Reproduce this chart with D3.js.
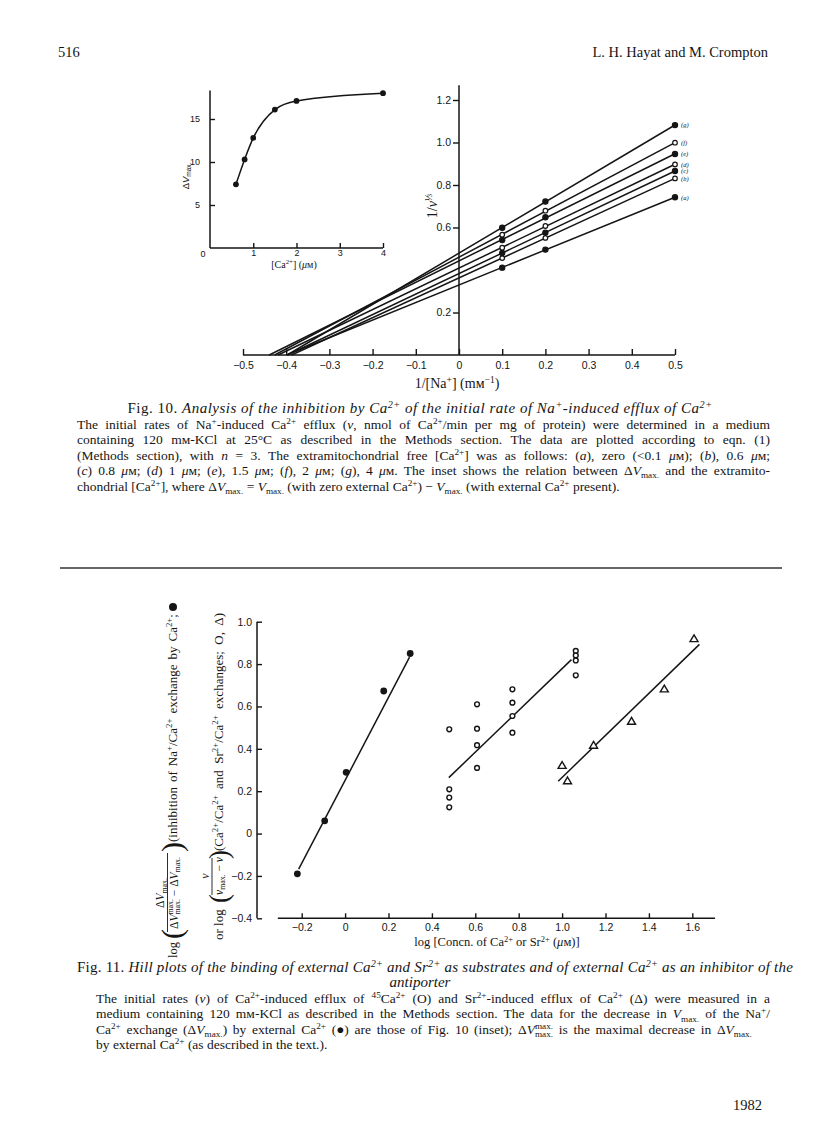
<!DOCTYPE html>
<html>
<head>
<meta charset="utf-8">
<script src="https://cdn.jsdelivr.net/npm/d3@7"></script>
<style>
body { margin: 0; padding: 0; background: #fff; }
svg { display: block; }
.tick text { font-family: "Liberation Sans", Arial, sans-serif; font-size: 10.5px; fill: #151515; }
.tick line { stroke: #151515; stroke-width: 1.4; }
.serif { font-family: "Liberation Serif", "Times New Roman", serif; fill: #151515; }
.sans { font-family: "Liberation Sans", Arial, sans-serif; fill: #151515; }
.axisline, .fit { stroke: #151515; stroke-width: 1.5; fill: none; }
</style>
</head>
<body>
<script>
// ---- Fig. 10 main plot: 1/v against 1/[Na+] ----
var naInv = [0.1, 0.2, 0.5];
var seriesLabels = ["(a)", "(b)", "(c)", "(d)", "(e)", "(f)", "(g)"];
var seriesFilled = [true, false, true, false, true, false, true];
var invV = [
  [0.411, 0.496, 0.742],
  [0.456, 0.551, 0.831],
  [0.480, 0.576, 0.866],
  [0.505, 0.607, 0.897],
  [0.541, 0.648, 0.946],
  [0.566, 0.679, 0.999],
  [0.599, 0.722, 1.082]
];
var mainXTicks = [-0.5, -0.4, -0.3, -0.2, -0.1, 0, 0.1, 0.2, 0.3, 0.4, 0.5];
var mainYTicks = [0.2, 0.6, 0.8, 1.0, 1.2];

// ---- Fig. 10 inset: dVmax against [Ca2+] ----
var caConc = [0.6, 0.8, 1.0, 1.5, 2.0, 4.0];
var dVmax = [7.4, 10.3, 12.8, 16.1, 17.1, 18.0];
var insetXTicks = [1, 2, 3, 4];
var insetYTicks = [5, 10, 15];

// ---- Fig. 11 Hill plots ----
var inhibX = [-0.22, -0.094, 0.005, 0.178, 0.30];
var inhibY = [-0.19, 0.06, 0.289, 0.673, 0.85];
var caX = [0.48, 0.48, 0.48, 0.48, 0.608, 0.608, 0.608, 0.608, 0.771, 0.771, 0.771, 0.771, 1.063, 1.063, 1.063, 1.063];
var caY = [0.492, 0.209, 0.17, 0.124, 0.61, 0.495, 0.417, 0.31, 0.681, 0.618, 0.555, 0.476, 0.862, 0.841, 0.817, 0.747];
var srX = [1.0, 1.025, 1.145, 1.32, 1.471, 1.608];
var srY = [0.322, 0.249, 0.417, 0.53, 0.683, 0.92];
var fitInhib = [[-0.214, -0.168], [0.297, 0.833]];
var fitCa = [[0.478, 0.264], [1.043, 0.821]];
var fitSr = [[0.982, 0.247], [1.633, 0.893]];
var hillXTicks = [-0.2, 0, 0.2, 0.4, 0.6, 0.8, 1.0, 1.2, 1.4, 1.6];
var hillYTicks = [-0.4, -0.2, 0, 0.2, 0.4, 0.6, 0.8, 1.0];

var W = 816, H = 1136;
var svg = d3.select("body").append("svg").attr("width", W).attr("height", H);

var fmt = function (v) { return v === 0 ? "0" : d3.format(".1f")(v); };

// small markup: ^{sup} _{sub} *italic toggle*
function rich(text, str, fs) {
  var re = /\^\{([^}]*)\}|_\{([^}]*)\}|\*|[^*^_]+/g, m, ital = false, shift = 0, lastSup = null;
  while ((m = re.exec(str))) {
    if (m[0] === "*") { ital = !ital; continue; }
    var t = text.append("tspan"), target = 0, txt = m[0];
    if (m[1] !== undefined) { target = -0.36 * fs; txt = m[1]; t.style("font-size", (fs * 0.68) + "px"); }
    else if (m[2] !== undefined) { target = 0.24 * fs; txt = m[2]; t.style("font-size", (fs * 0.68) + "px"); }
    if (ital) t.style("font-style", "italic");
    t.attr("dy", target - shift).text(txt);
    if (m[2] !== undefined && lastSup) t.attr("dx", -lastSup.node().getComputedTextLength());
    lastSup = m[1] !== undefined ? t : null;
    shift = target;
  }
  return text;
}
function justify(text, width) {
  var n = text.node().getComputedTextLength();
  var spaces = (text.text().match(/ /g) || []).length;
  if (spaces) text.style("word-spacing", ((width - n) / spaces) + "px");
}
function stretch(text, width) {
  var n = text.node().getComputedTextLength();
  var chars = text.text().length;
  text.style("letter-spacing", ((width - n) / chars) + "px");
}
function label(x, y, str, fs, cls, anchor) {
  var t = svg.append("text").attr("class", cls || "serif").attr("x", x).attr("y", y)
    .style("font-size", fs + "px").attr("text-anchor", anchor || "start");
  return rich(t, str, fs);
}

// ---- page header / footer ----
label(58, 57, "516", 14.5);
label(768, 57, "L. H. Hayat and M. Crompton", 14.5, "serif", "end");
label(762, 1110, "1982", 14.5, "serif", "end");

// ===== Fig. 10 main =====
var xM = d3.scaleLinear().domain([-0.5, 0.5]).range([243, 675]);
var yM = d3.scaleLinear().domain([0, 1.2]).range([355, 100]);

svg.append("g").attr("transform", "translate(0," + yM(0) + ")")
  .call(d3.axisBottom(xM).tickValues(mainXTicks).tickSize(-6).tickPadding(7).tickFormat(fmt))
  .call(function (g) { g.select(".domain").remove(); });
svg.append("line").attr("class", "axisline")
  .attr("x1", xM(-0.5)).attr("x2", xM(0.5)).attr("y1", yM(0)).attr("y2", yM(0));
svg.append("g").attr("transform", "translate(" + xM(0) + ",0)")
  .call(d3.axisLeft(yM).tickValues(mainYTicks).tickSize(6).tickPadding(2).tickFormat(fmt))
  .call(function (g) { g.select(".domain").remove(); });
svg.append("line").attr("class", "axisline")
  .attr("x1", xM(0)).attr("x2", xM(0)).attr("y1", yM(0)).attr("y2", yM(1.27));

function fitLine(xs, ys) {
  var mx = d3.mean(xs), my = d3.mean(ys);
  var sxy = d3.sum(xs, function (x, i) { return (x - mx) * (ys[i] - my); });
  var sxx = d3.sum(xs, function (x) { return (x - mx) * (x - mx); });
  var m = sxy / sxx;
  return { m: m, b: my - m * mx };
}
var lineM = d3.line().x(function (d) { return xM(d[0]); }).y(function (d) { return yM(d[1]); });

invV.forEach(function (ys, i) {
  var f = fitLine(naInv, ys);
  var x0 = -f.b / f.m;
  svg.append("path").attr("class", "fit").attr("stroke-width", 1.2)
    .attr("d", lineM([[x0, 0], [0.5, f.m * 0.5 + f.b]]));
});
invV.forEach(function (ys, i) {
  svg.append("g").selectAll("circle").data(ys).enter().append("circle")
    .attr("cx", function (d, j) { return xM(naInv[j]); })
    .attr("cy", function (d) { return yM(d); })
    .attr("r", seriesFilled[i] ? 2.6 : 2.3)
    .attr("fill", seriesFilled[i] ? "#151515" : "#fff")
    .attr("stroke", "#151515").attr("stroke-width", 1.2);
  svg.append("text").attr("class", "serif").attr("x", xM(0.5) + 6).attr("y", yM(ys[2]) + 2.3)
    .style("font-size", "6.5px").style("font-style", "italic").text(seriesLabels[i]);
});

// axis titles
var yl = svg.append("text").attr("class", "serif").attr("transform", "translate(437,206) rotate(-90)")
  .attr("text-anchor", "middle").style("font-size", "14px");
rich(yl, "1/*v*^{⅓}", 14);
label(457, 388, "1/[Na^{+}] (mᴍ^{−1})", 14, "serif", "middle");

// ===== Fig. 10 inset =====
var xI = d3.scaleLinear().domain([0, 4]).range([210, 383]);
var yI = d3.scaleLinear().domain([0, 15]).range([248, 119]);
svg.append("g").attr("transform", "translate(0," + yI(0) + ")")
  .call(d3.axisBottom(xI).tickValues(insetXTicks).tickSize(-5).tickPadding(2).tickFormat(d3.format("d")))
  .call(function (g) { g.select(".domain").remove(); g.selectAll("text").style("font-size", "9px"); });
svg.append("g").attr("transform", "translate(" + xI(0) + ",0)")
  .call(d3.axisLeft(yI).tickValues(insetYTicks).tickSize(-5).tickPadding(10).tickFormat(d3.format("d")))
  .call(function (g) { g.select(".domain").remove(); g.selectAll("text").style("font-size", "9px"); });
svg.append("line").attr("class", "axisline")
  .attr("x1", xI(0)).attr("x2", xI(4)).attr("y1", yI(0)).attr("y2", yI(0));
svg.append("line").attr("class", "axisline")
  .attr("x1", xI(0)).attr("x2", xI(0)).attr("y1", yI(0)).attr("y2", yI(18.3));
label(xI(0) - 7, yI(0) + 9, "0", 9, "sans", "middle");

var inset = caConc.map(function (c, i) { return [c, dVmax[i]]; });
svg.append("path").attr("class", "fit").attr("stroke-width", 1.1)
  .attr("d", d3.line().curve(d3.curveMonotoneX)
    .x(function (d) { return xI(d[0]); }).y(function (d) { return yI(d[1]); })(inset));
svg.append("g").selectAll("circle").data(inset).enter().append("circle")
  .attr("cx", function (d) { return xI(d[0]); }).attr("cy", function (d) { return yI(d[1]); })
  .attr("r", 2.9).attr("fill", "#151515");

var il = svg.append("text").attr("class", "sans").attr("transform", "translate(189,176) rotate(-90)")
  .attr("text-anchor", "middle").style("font-size", "9.5px");
rich(il, "Δ*V*_{max.}", 9.5);
label(294, 268, "[Ca^{2+}] (*μ*ᴍ)", 10, "serif", "middle");

// ---- Fig. 10 caption ----
var capL = 77, capR = 770;
var t10 = svg.append("text").attr("class", "serif").attr("x", 420).attr("y", 413)
  .attr("text-anchor", "middle").style("font-size", "15px");
rich(t10, "Fig. 10. *Analysis of the inhibition by Ca^{2+} of the initial rate of Na^{+}-induced efflux of Ca^{2+}*", 15);
stretch(t10, 585);
var cap10 = [
  "The initial rates of Na^{+}-induced Ca^{2+} efflux (*v*, nmol of Ca^{2+}/min per mg of protein) were determined in a medium",
  "containing 120 mᴍ-KCl at 25°C as described in the Methods section. The data are plotted according to eqn. (1)",
  "(Methods section), with *n* = 3. The extramitochondrial free [Ca^{2+}] was as follows: (*a*), zero (<0.1 *μ*ᴍ); (*b*), 0.6 *μ*ᴍ;",
  "(*c*) 0.8 *μ*ᴍ; (*d*) 1 *μ*ᴍ; (*e*), 1.5 *μ*ᴍ; (*f*), 2 *μ*ᴍ; (*g*), 4 *μ*ᴍ. The inset shows the relation between Δ*V*_{max.} and the extramito-",
  "chondrial [Ca^{2+}], where Δ*V*_{max.} = *V*_{max.} (with zero external Ca^{2+}) − *V*_{max.} (with external Ca^{2+} present)."
];
cap10.forEach(function (s, i) {
  var t = label(capL, 429 + i * 15.4, s, 13.5);
  if (i < cap10.length - 1) justify(t, capR - capL);
});

// separator rule
svg.append("line").attr("x1", 60).attr("x2", 782).attr("y1", 568).attr("y2", 568)
  .attr("stroke", "#333").attr("stroke-width", 1.3);

// ===== Fig. 11 Hill plot =====
var xB = d3.scaleLinear().domain([-0.2, 1.6]).range([301.7, 692.3]);
var yB = d3.scaleLinear().domain([-0.4, 1.0]).range([918.3, 621.7]);
svg.append("g").attr("transform", "translate(0," + yB(-0.4) + ")")
  .call(d3.axisBottom(xB).tickValues(hillXTicks).tickSize(-5).tickPadding(5).tickFormat(fmt))
  .call(function (g) { g.select(".domain").remove(); });
svg.append("line").attr("class", "axisline")
  .attr("x1", xB(-0.31)).attr("x2", xB(1.705)).attr("y1", yB(-0.4)).attr("y2", yB(-0.4));
svg.append("g").attr("transform", "translate(257,0)")
  .call(d3.axisLeft(yB).tickValues(hillYTicks).tickSize(-5).tickPadding(5).tickFormat(fmt))
  .call(function (g) { g.select(".domain").remove(); });
svg.append("line").attr("class", "axisline")
  .attr("x1", 257).attr("x2", 257).attr("y1", yB(-0.4)).attr("y2", yB(1.0));

var lineB = d3.line().x(function (d) { return xB(d[0]); }).y(function (d) { return yB(d[1]); });
[fitInhib, fitCa, fitSr].forEach(function (f) {
  svg.append("path").attr("class", "fit").attr("stroke-width", 1.4).attr("d", lineB(f));
});
svg.append("g").selectAll("circle").data(caX).enter().append("circle")
  .attr("cx", function (d) { return xB(d); }).attr("cy", function (d, i) { return yB(caY[i]); })
  .attr("r", 2.4).attr("fill", "#fff").attr("stroke", "#151515").attr("stroke-width", 1.4);
svg.append("g").selectAll("circle").data(inhibX).enter().append("circle")
  .attr("cx", function (d) { return xB(d); }).attr("cy", function (d, i) { return yB(inhibY[i]); })
  .attr("r", 3.4).attr("fill", "#151515");
svg.append("g").selectAll("path").data(srX).enter().append("path")
  .attr("transform", function (d, i) { return "translate(" + xB(d) + "," + yB(srY[i]) + ")"; })
  .attr("d", "M0,-3.8L4,3L-4,3Z").attr("fill", "#fff").attr("stroke", "#151515").attr("stroke-width", 1.4);

label(497, 946, "log [Concn. of Ca^{2+} or Sr^{2+} (*μ*ᴍ)]", 12.5, "serif", "middle");

// rotated y-axis title, two lines (local x = -page y, local y = page x)
var yg = svg.append("g").attr("transform", "rotate(-90)");
function rlabel(lx, ly, str, fs, anchor) {
  var t = yg.append("text").attr("class", "serif").attr("x", lx).attr("y", ly)
    .attr("text-anchor", anchor || "start").style("font-size", fs + "px");
  return rich(t, str, fs);
}
// line 1
rlabel(-958, 177, "log", 12.5);
rlabel(-939, 182, "(", 30);
rlabel(-893, 164, "Δ*V*_{max.}", 11.5, "middle");
yg.append("line").attr("x1", -932).attr("x2", -853).attr("y1", 167.5).attr("y2", 167.5)
  .attr("stroke", "#151515").attr("stroke-width", 0.9);
rlabel(-893, 177.5, "Δ*V*^{max.}_{max.} − Δ*V*_{max.}", 11.5, "middle");
rlabel(-852, 182, ")", 30);
var inh = rlabel(-842, 177, "(inhibition of Na^{+}/Ca^{2+} exchange by Ca^{2+};", 13);
justify(inh, 228);
yg.append("circle").attr("cx", -842 + 228 + 7).attr("cy", 173).attr("r", 4).attr("fill", "#151515");
// line 2
rlabel(-940, 223, "or log", 13);
rlabel(-903, 228, "(", 27);
rlabel(-876, 209, "*v*", 12, "middle");
yg.append("line").attr("x1", -895).attr("x2", -858).attr("y1", 212).attr("y2", 212)
  .attr("stroke", "#151515").attr("stroke-width", 0.9);
rlabel(-876, 222.5, "*v*_{max.} − *v*", 11.5, "middle");
rlabel(-859, 228, ")", 27);
var exch = rlabel(-851, 223, "(Ca^{2+}/Ca^{2+} and Sr^{2+}/Ca^{2+} exchanges; O, Δ)", 13);
justify(exch, 238);

// ---- Fig. 11 caption ----
var t11 = label(capL, 972, "Fig. 11. *Hill plots of the binding of external Ca^{2+} and Sr^{2+} as substrates and of external Ca^{2+} as an inhibitor of the*", 15);
stretch(t11, 716);
label(420, 987, "*antiporter*", 15, "serif", "middle");
var cap11 = [
  "The initial rates (*v*) of Ca^{2+}-induced efflux of ^{45}Ca^{2+} (O) and Sr^{2+}-induced efflux of Ca^{2+} (Δ) were measured in a",
  "medium containing 120 mᴍ-KCl as described in the Methods section. The data for the decrease in *V*_{max.} of the Na^{+}/",
  "Ca^{2+} exchange (Δ*V*_{max.}) by external Ca^{2+} (●) are those of Fig. 10 (inset); Δ*V*^{max.}_{max.} is the maximal decrease in Δ*V*_{max.}",
  "by external Ca^{2+} (as described in the text.)."
];
cap11.forEach(function (s, i) {
  var t = label(96, 1003 + i * 15.3, s, 13.5);
  if (i < cap11.length - 1) justify(t, capR - 96);
});
</script>
</body>
</html>
